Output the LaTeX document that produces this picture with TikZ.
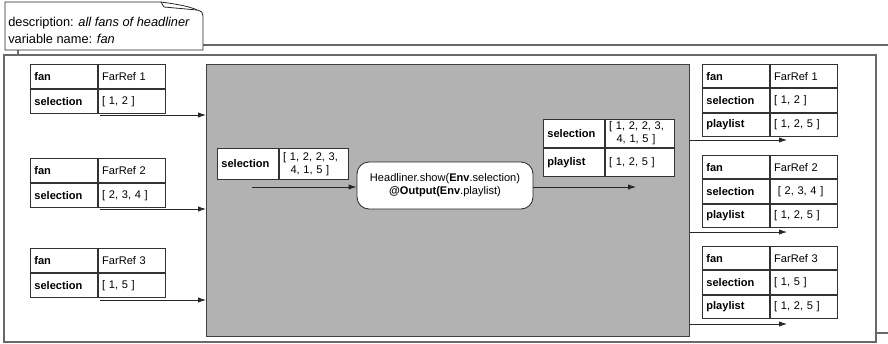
\documentclass[tikz,border=0pt]{standalone}
\usepackage{fontspec}
\setmainfont{Liberation Sans}
\usetikzlibrary{arrows.meta,positioning}
\definecolor{envgray}{RGB}{178,178,178}
\definecolor{framegray}{RGB}{105,105,105}

\tikzset{
  cell/.style={draw=black!80, fill=white, line width=0.6pt, anchor=north west,
    inner xsep=3pt, inner ysep=0pt, minimum height=18pt, align=left,
    font=\fontsize{8.3}{9.6}\selectfont},
  keycell/.style={cell, font=\fontsize{8.3}{9.6}\selectfont\bfseries, text width=44.25pt},
  valcell/.style={cell, text width=44.25pt},
  flow/.style={-{Latex[length=6pt,width=4pt]}, line width=0.6pt, black!85},
}

\begin{document}
\begin{tikzpicture}[x=0.75pt,y=-0.75pt]
  \useasboundingbox (0,0) rectangle (888,343);

  % stacked frames
  \draw[framegray, line width=0.8pt] (18,45) rectangle (900,333);
  \draw[framegray, line width=1.2pt, fill=white] (4,55) rectangle (876,342);

  % note with folded corner
  \draw[black!85, line width=0.6pt, fill=white] (5,50) -- (5,2) -- (161,2) -- (164,7)
    -- (197,10) .. controls (202,11) and (203,13) .. (203,16) -- (203,50) -- cycle;
  \draw[black!85, line width=0.6pt] (161,2) .. controls (175,4) and (189,6) .. (197,10);
  \node[anchor=north west, align=left, inner sep=0pt, font=\fontsize{9.6}{12.75}\selectfont]
    (note) at (8,17) {description: \textit{all fans of headliner}\\variable name: \textit{fan}};

  % environment box
  \node[draw=black!75, fill=envgray, line width=0.6pt, anchor=north west, inner sep=0pt,
    minimum width=362.25pt, minimum height=204pt] (env) at (206,64) {};

  % incoming fans
  \foreach \n/\sel/\ty/\ay in {1/{[ 1, 2 ]}/64/115, 2/{[ 2, 3, 4 ]}/158/209, 3/{[ 1, 5 ]}/248/300} {
    \node[keycell] (fanL\n) at (30,\ty) {fan};
    \node[valcell] (refL\n) at (fanL\n.north east) {FarRef \n};
    \node[keycell] (selL\n) at (fanL\n.south west) {selection};
    \node[valcell] (selvL\n) at (selL\n.north east) {\sel};
    \coordinate (inL\n) at (100,\ay);
    \draw[flow] (inL\n) -- (inL\n -| env.west);
  }

  % merged selection
  \node[keycell, text width=39.75pt, minimum height=23.25pt] (selIn) at (217,148) {selection};
  \node[valcell, text width=45.75pt, minimum height=23.25pt] (selvIn) at (selIn.north east)
    {[ 1, 2, 2, 3,\\~~4, 1, 5 ]};
  \coordinate (inShow) at (252,187);

  % show action
  \node[draw=black!85, fill=white, rounded corners=9pt, line width=0.6pt, minimum width=132pt,
    minimum height=35.25pt, align=center, font=\fontsize{8.3}{9.6}\selectfont]
    (show) at (445,185.5) {Headliner.show(\textbf{Env}.selection)\\\textbf{@Output(Env}.playlist)};
  \draw[flow] (inShow) -- (inShow -| show.west);

  % output of the action
  \node[keycell, text width=39.75pt, minimum height=21pt] (selOut) at (543,119) {selection};
  \node[valcell, text width=45.75pt, minimum height=21pt] (selvOut) at (selOut.north east)
    {[ 1, 2, 2, 3,\\~~4, 1, 5 ]};
  \node[keycell, text width=39.75pt, minimum height=21pt] (plOut) at (selOut.south west) {playlist};
  \node[valcell, text width=45.75pt, minimum height=21pt] (plvOut) at (plOut.north east) {[ 1, 2, 5 ]};
  \coordinate (outShow) at (636,187);
  \draw[flow] (show.east |- outShow) -- (outShow);

  % outgoing fans
  \foreach \n/\sel/\ty/\ay in {1/{[ 1, 2 ]}/64/140, 2/{~[ 2, 3, 4 ]}/155/232, 3/{[ 1, 5 ]}/246/324} {
    \node[keycell, minimum height=17.6pt] (fanR\n) at (702,\ty) {fan};
    \node[valcell, minimum height=17.6pt] (refR\n) at (fanR\n.north east) {FarRef \n};
    \node[keycell, minimum height=17.6pt] (selR\n) at (fanR\n.south west) {selection};
    \node[valcell, minimum height=17.6pt] (selvR\n) at (selR\n.north east) {\sel};
    \node[keycell, minimum height=17.6pt] (plR\n) at (selR\n.south west) {playlist};
    \node[valcell, minimum height=17.6pt] (plvR\n) at (plR\n.north east) {[ 1, 2, 5 ]};
    \coordinate (outR\n) at (787,\ay);
    \draw[flow] (env.east |- outR\n) -- (outR\n);
  }
\end{tikzpicture}
\end{document}
